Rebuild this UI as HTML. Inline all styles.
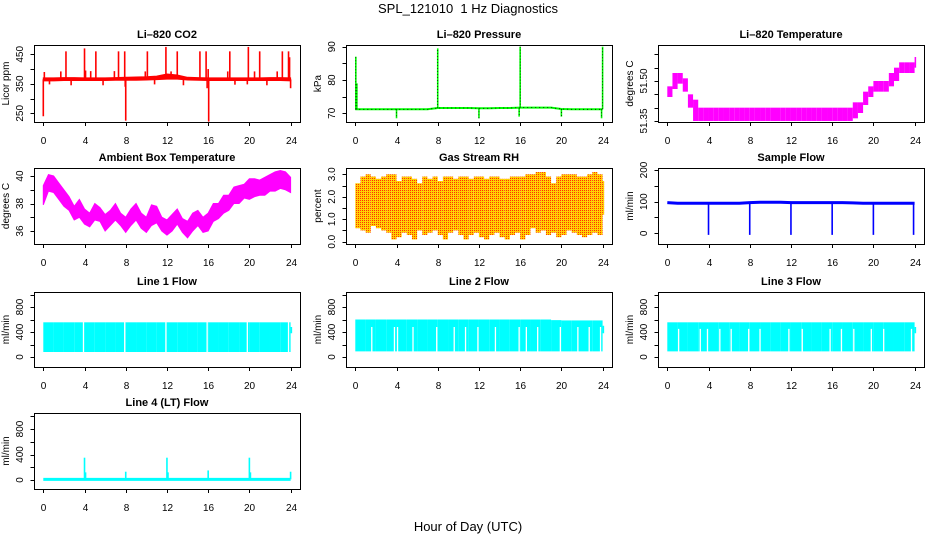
<!DOCTYPE html>
<html><head><meta charset="utf-8"><style>
html,body{margin:0;padding:0;background:#fff;}
svg{display:block;font-family:"Liberation Sans",sans-serif;}
</style></head><body>
<svg id="chart" width="936" height="540" viewBox="0 0 936 540">
<defs>
<pattern id="rhpat" width="2" height="2" patternUnits="userSpaceOnUse">
<rect width="2" height="2" fill="#ffd000"/><rect width="1" height="1" fill="#ff3000"/>
</pattern>
</defs>
<text x="468" y="13" text-anchor="middle" font-size="13">SPL_121010&#160; 1 Hz Diagnostics</text>
<text x="468" y="531" text-anchor="middle" font-size="13">Hour of Day (UTC)</text>
</svg>
<script>
// ---------- data ----------
const xTicks = [0,4,8,12,16,20,24];
const hourly = [0,1,2,3,4,5,6,7,8,9,10,11,12,13,14,15,16,17,18,19,20,21,22,23,24];
const halfHours = [0,0.5,1,1.5,2,2.5,3,3.5,4,4.5,5,5.5,6,6.5,7,7.5,8,8.5,9,9.5,10,10.5,11,11.5,12,12.5,13,13.5,14,14.5,15,15.5,16,16.5,17,17.5,18,18.5,19,19.5,20,20.5,21,21.5,22,22.5,23,23.5,24];

const co2Lo = [360,360,361,361,361,361,361,362,362,362,363,364,366,366,363,362,361,361,361,361,361,361,361,361,360];
const co2Hi = [370,370,371,371,370,370,370,371,372,373,374,376,383,380,372,371,370,370,370,370,370,370,371,371,370];
const co2SpikeX = [0.1,1.7,2.2,4.0,4.1,4.6,5.1,6.9,7.3,7.9,9.9,10.1,11.9,12.4,13.0,15.2,15.8,16.0,17.9,18.1,19.9,20.5,21.0,22.7,23.2,23.8,23.9,0.0,0.6,2.7,5.8,7.95,8.0,10.8,13.6,16.05,15.9,18.6,19.8,21.7,24];
const co2SpikeV = [390,392,460,470,395,393,460,393,460,460,392,460,475,392,460,460,460,400,392,460,475,392,460,392,460,460,440,240,348,345,345,340,225,348,345,222,335,347,348,345,335];

const pressVals = [71.2,71.2,71.2,71.2,71.2,71.2,71.2,71.2,71.6,71.6,71.6,71.6,71.5,71.5,71.6,71.6,71.7,71.7,71.7,71.7,71.3,71.2,71.2,71.2,71.2];
const pressSpikeX = [0.05,0.15,8.0,16.0,24,4,12,15.9,20,23.9];
const pressSpikeV = [87,79,89.5,90,90,68.5,68.5,69,69,68.5];

const tempLo = [51.44,51.47,51.49,51.46,51.40,51.35,51.35,51.35,51.35,51.35,51.35,51.35,51.35,51.35,51.35,51.35,51.35,51.35,51.35,51.35,51.35,51.35,51.35,51.35,51.35,51.35,51.35,51.35,51.35,51.35,51.35,51.35,51.35,51.35,51.35,51.35,51.36,51.38,51.41,51.44,51.46,51.46,51.46,51.48,51.50,51.53,51.53,51.53,51.55];
const tempHi = [51.48,51.53,51.53,51.51,51.45,51.43,51.40,51.40,51.40,51.40,51.40,51.40,51.40,51.40,51.40,51.40,51.40,51.40,51.40,51.40,51.40,51.40,51.40,51.40,51.40,51.40,51.40,51.40,51.40,51.40,51.40,51.40,51.40,51.40,51.40,51.40,51.42,51.42,51.46,51.48,51.50,51.50,51.50,51.53,51.55,51.57,51.57,51.57,51.59];

const ambLo = [37.9,38.9,38.8,38.3,37.8,37.5,36.8,37.0,36.5,36.3,36.8,36.7,36.0,36.4,36.8,36.4,35.9,36.4,36.8,36.2,35.9,36.4,36.6,36.0,35.7,36.0,36.5,35.9,35.5,36.0,36.4,35.9,36.0,36.7,36.9,37.3,37.5,38.0,38.0,38.4,38.3,38.5,38.6,38.6,38.9,38.9,39.1,39.0,38.8];
const ambHi = [39.3,40.1,40.0,39.5,39.0,38.5,37.8,38.3,37.6,37.3,38.0,37.7,37.2,37.5,38.0,37.3,37.0,37.6,38.0,37.3,37.0,37.9,37.8,37.0,36.8,37.2,37.6,36.9,36.7,37.3,37.5,37.0,37.3,38.0,38.0,38.6,38.6,39.2,39.3,39.4,39.8,39.8,39.7,39.9,40.1,40.3,40.4,40.3,39.9];

const rhLo = [0.6,0.5,0.4,0.7,0.6,0.5,0.4,0.1,0.2,0.4,0.3,0.1,0.5,0.3,0.4,0.5,0.3,0.1,0.4,0.5,0.3,0.1,0.3,0.4,0.2,0.1,0.3,0.4,0.2,0.1,0.3,0.4,0.1,0.3,0.6,0.4,0.5,0.3,0.4,0.2,0.3,0.5,0.4,0.3,0.2,0.3,0.4,0.3,1.2];
const rhHi = [2.6,2.9,3.0,2.9,2.8,2.9,3.0,3.0,2.7,2.9,2.9,2.8,2.6,2.9,2.8,2.9,2.7,2.9,2.9,2.8,2.9,2.9,2.8,2.9,2.9,2.8,2.9,2.9,2.8,2.8,2.9,2.9,2.9,3.0,3.0,3.1,3.1,2.9,2.6,2.9,3.0,3.0,3.0,2.9,2.9,3.0,3.1,3.0,2.7];

const sampleVals = [97,95,95,95,95,95,95,95,97,98,98,98,97,97,97,97,97,97,96,95,95,95,95,95,95];
const sampleDropX = [4,8,12,16,20,23.9];
const sampleDropV = [-5,-5,-5,-5,-5,-5];

const line1Lo = [80,80,80,80,80,80,80,80,80,80,80,80,80,80,80,80,80,80,80,80,80,80,80,80,380];
const line1Hi = [555,555,555,555,555,555,555,555,555,555,555,555,555,555,555,555,555,555,555,555,555,555,555,555,480];
const line1Gaps = [3.9,7.9,11.9,15.9,19.8,23.8];

const line2Lo = [90,90,90,90,90,90,90,90,90,90,90,90,90,90,90,90,90,90,90,90,90,90,90,90,380];
const line2Hi = [600,600,600,600,600,600,600,600,600,600,600,600,600,600,600,600,600,600,600,590,585,585,585,585,500];
const line2Gaps = [1.6,3.8,4.1,5.6,7.9,9.6,10.7,11.9,13.6,15.9,16.6,17.7,19.9,21.6,22.7,23.8];

const line3Lo = [90,90,90,90,90,90,90,90,90,90,90,90,90,90,90,90,90,90,90,90,90,90,90,90,380];
const line3Hi = [555,555,555,555,555,555,555,555,555,555,555,555,555,555,555,555,555,555,555,555,555,555,555,555,480];
const line3Gaps = [1.1,3.2,3.9,5.1,6.2,7.9,9.0,11.8,13.1,15.8,16.9,18.1,19.8,21.0,23.7];

const line4Vals = [10,10,10,10,10,10,10,10,10,10,10,10,10,10,10,10,10,10,10,10,10,10,10,10,10];
const line4SpikeX = [4,4.1,8,12,12.1,16,20,20.1,24];
const line4SpikeV = [350,120,130,350,120,150,350,120,130];

// ---------- layout ----------
const svg = document.getElementById('chart');
const NS = 'http://www.w3.org/2000/svg';
const colLeft = [34,346,658];
const rows = [[45,122],[168,244],[292,367],[413,489]];
function mk(tag, attrs, parent){const e=document.createElementNS(NS,tag);for(const k in attrs)e.setAttribute(k,attrs[k]);(parent||svg).appendChild(e);return e;}
function xScale(col){const x0=colLeft[col]+9.3;return h=>x0+h/24*247.3;}
function yScale(v0,p0,v1,p1){return v=>p0+(v-v0)*(p1-p0)/(v1-v0);}

function panel(name,title,col,row,ytitle,ys,ticks,labels,labelFmt){
  const g=mk('g',{});
  
  
  const L=colLeft[col],T=rows[row][0],B=rows[row][1];
  const cp=mk('clipPath',{id:'clip-'+name},g);
  mk('rect',{x:L,y:T,width:266,height:B-T},cp);
  const plot=mk('g',{'clip-path':'url(#clip-'+name+')'},g);
  
  
  const box=mk('rect',{x:L+0.5,y:T+0.5,width:266,height:B-T,fill:'none',stroke:'#000','stroke-width':1},g);
  
  
  const t=mk('text',{x:L+133,y:T-7,'text-anchor':'middle','font-size':11,'font-weight':'bold'},g);
  t.textContent=title;
  
  
  const xs=xScale(col);
  const xa=mk('g',{},g);
  
  
  xTicks.forEach(h=>{const x=Math.round(xs(h))+0.5;
    mk('line',{x1:x,x2:x,y1:B,y2:B+4,stroke:'#000'},xa);
    const l=mk('text',{x:x,y:B+22,'text-anchor':'middle','font-size':10},xa);l.textContent=h;});
  const ya=mk('g',{},g);
  
  
  ticks.forEach(v=>{const y=Math.round(ys(v))+0.5;
    mk('line',{x1:L-3.5,x2:L,y1:y,y2:y,stroke:'#000'},ya);});
  labels.forEach(v=>{const y=ys(v);const x=L-11;
    const l=mk('text',{x:x,y:y,'text-anchor':'middle','font-size':10,transform:'rotate(-90 '+x+' '+y+')'},ya);
    l.textContent=labelFmt?labelFmt(v):v;});
  const yt=mk('text',{x:L-25,y:(T+B)/2,'text-anchor':'middle','font-size':10,transform:'rotate(-90 '+(L-25)+' '+((T+B)/2)+')'},g);
  yt.textContent=ytitle;
  
  
  return {plot,xs,ys};
}
function band(p,hs,lo,hi,fill){
  let pts=hs.map((h,i)=>p.xs(h)+','+p.ys(hi[i]));
  for(let i=hs.length-1;i>=0;i--)pts.push(p.xs(hs[i])+','+p.ys(lo[i]));
  const e=mk('polygon',{points:pts.join(' '),fill:fill,stroke:fill.startsWith('url')?'none':fill,'stroke-width':1},p.plot);
  
  
}
function stepBand(p,hs,lo,hi,fill,w){
  hs.forEach((h,i)=>{const x1=p.xs(h),x2=p.xs(Math.min(h+w,24.15));
    const r=mk('rect',{x:x1,y:p.ys(hi[i]),width:x2-x1,height:p.ys(lo[i])-p.ys(hi[i]),fill:fill},p.plot);
    
    });
}
function spikes(p,sx,sv,base,color,w,dash){
  sx.forEach((h,i)=>{const x=p.xs(h);
    const l=mk('line',{x1:x,x2:x,y1:p.ys(base(h)),y2:p.ys(sv[i]),stroke:color,'stroke-width':w||1.5},p.plot);
    if(dash)l.setAttribute('stroke-dasharray',dash);
    
    });
}
function line(p,hs,vals,color,w,dash){
  const e=mk('polyline',{points:hs.map((h,i)=>p.xs(h)+','+p.ys(vals[i])).join(' '),fill:'none',stroke:color,'stroke-width':w},p.plot);
  if(dash)e.setAttribute('stroke-dasharray',dash);
  
  
}
function gaps(p,gx,lo,top){
  gx.forEach(h=>{const x=p.xs(h);
    const l=mk('line',{x1:x,x2:x,y1:p.ys(lo-10),y2:p.ys(top),stroke:'#fff','stroke-width':1.3},p.plot);
    
    });
}
function interp(hs,vals){return h=>{let i=Math.min(Math.floor(h),hs.length-1);return vals[i];};}

// CO2
let p=panel('co2','Li\u2013820 CO2',0,0,'Licor ppm',yScale(250,113.3,450,54.3),[250,300,350,400,450],[250,350,450]);
band(p,hourly,co2Lo,co2Hi,'#ff0000');
spikes(p,co2SpikeX,co2SpikeV,h=>365,'#ff0000',1.6);
// Pressure
p=panel('pressure','Li\u2013820 Pressure',1,0,'kPa',yScale(70,113.3,90,46.7),[70,75,80,85,90],[70,80,90]);
line(p,hourly,pressVals,'#00ff00',2);
line(p,hourly,pressVals,'#000',0.8,'1 3');
spikes(p,pressSpikeX,pressSpikeV,interp(hourly,pressVals),'#00ff00',1.6);
spikes(p,pressSpikeX,pressSpikeV,interp(hourly,pressVals),'#000',0.7,'1 2');
// Li-820 temperature
p=panel('li820-temp','Li\u2013820 Temperature',2,0,'degrees C',yScale(51.35,121,51.50,81),[51.35,51.40,51.45,51.50,51.55,51.60],[51.35,51.50],v=>v.toFixed(2));
stepBand(p,halfHours,tempLo,tempHi,'#ff00ff',0.5);
// Ambient
p=panel('ambient-temp','Ambient Box Temperature',0,1,'degrees C',yScale(36,231,40,176),[36,37,38,39,40],[36,38,40]);
band(p,halfHours,ambLo,ambHi,'#ff00ff');
// RH
p=panel('gas-rh','Gas Stream RH',1,1,'percent',yScale(0,241.7,3,174.3),[0,0.5,1,1.5,2,2.5,3],[0,1,2,3],v=>v.toFixed(1));
stepBand(p,halfHours,rhLo,rhHi,'url(#rhpat)',0.5);
// Sample flow
p=panel('sample-flow','Sample Flow',2,1,'ml/min',yScale(0,233.3,200,170),[0,50,100,150,200],[0,100,200]);
line(p,hourly,sampleVals,'#0000ff',3);
spikes(p,sampleDropX,sampleDropV,h=>95,'#0000ff',1.6);
// Line flows
p=panel('line1-flow','Line 1 Flow',0,2,'ml/min',yScale(0,357,800,307),[0,200,400,600,800,1000],[0,400,800]);
stepBand(p,hourly,line1Lo,line1Hi,'#00ffff',1);
gaps(p,line1Gaps,80,560);
p=panel('line2-flow','Line 2 Flow',1,2,'ml/min',yScale(0,357,800,307),[0,200,400,600,800,1000],[0,400,800]);
stepBand(p,hourly,line2Lo,line2Hi,'#00ffff',1);
gaps(p,line2Gaps,90,480);
p=panel('line3-flow','Line 3 Flow',2,2,'ml/min',yScale(0,357,800,307),[0,200,400,600,800,1000],[0,400,800]);
stepBand(p,hourly,line3Lo,line3Hi,'#00ffff',1);
gaps(p,line3Gaps,90,450);
p=panel('line4-flow','Line 4 (LT) Flow',0,3,'ml/min',yScale(0,480,800,429),[0,200,400,600,800,1000],[0,400,800]);
line(p,hourly,line4Vals,'#00ffff',3);
spikes(p,line4SpikeX,line4SpikeV,h=>10,'#00ffff',1.6);
</script>
</body></html>
